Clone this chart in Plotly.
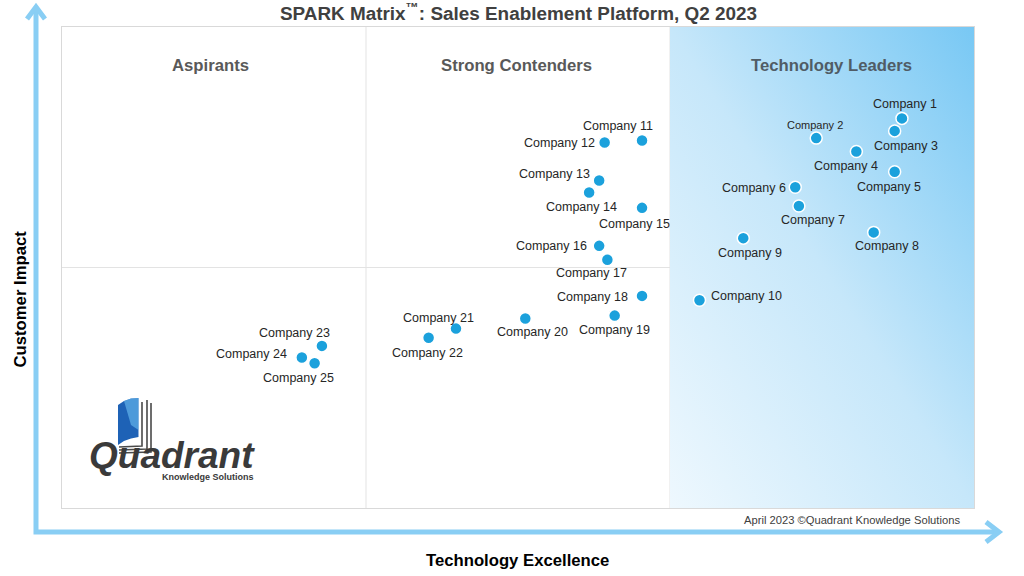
import base64
import plotly.graph_objects as go

# ---------------- data ----------------
companies = [f"Company {i}" for i in range(1, 26)]
tech_excellence = [92.1, 82.7, 91.3, 87.1, 91.3, 80.4, 80.8, 89.0, 74.7, 69.9,
                   63.6, 59.5, 58.9, 57.8, 63.6, 58.9, 59.8, 63.6, 60.6, 50.8,
                   43.2, 40.2, 28.5, 26.3, 27.7]
customer_impact = [81.0, 76.9, 78.4, 74.1, 69.9, 66.7, 62.8, 57.3, 56.1, 43.2,
                   76.4, 76.0, 68.1, 65.6, 62.4, 54.5, 51.6, 44.1, 40.0, 39.4,
                   37.3, 35.4, 33.7, 31.3, 30.1]
quadrant_names = ["Aspirants", "Strong Contenders", "Technology Leaders"]

# label offsets in pixels (dx right, dy down)
label_dx = [3, -1, 11, -10, -6, -41, 14, 13, 7, 47,
            -24, -45, -45, -8, -8, -48, -16, -50, 0, 7,
            -17, -1, -27, -50, -16]
label_dy = [-14, -13, 15, 14, 15, 1, 14, 14, 15, -4,
            -15, 1, -6, 15, 16, 0, 13, 1, 14, 14,
            -11, 15, -13, -3, 15]

FONT = "Arial, Liberation Sans, sans-serif"

# plot area in pixels
L, R, T, B = 62, 974, 27, 508


def P(px, py):
    return (px - L) / (R - L), (B - py) / (B - T)


def path(points, close=False):
    s = ""
    for i, (px, py) in enumerate(points):
        x, y = P(px, py)
        s += ("M" if i == 0 else "L") + f"{x:.5f},{y:.5f} "
    if close:
        s += "Z"
    return s


def paper_text(px, py, text, size, color, **kw):
    x, y = P(px, py)
    d = dict(x=x, y=y, xref="paper", yref="paper", showarrow=False, text=text,
             xanchor="center", yanchor="middle",
             font=dict(family=FONT, size=size, color=color))
    d.update(kw)
    return d


fig = go.Figure()

fig.add_trace(go.Scatter(
    x=tech_excellence, y=customer_impact, mode="markers",
    marker=dict(size=12, color="#1ba1dc", line=dict(color="white", width=1.5)),
    hoverinfo="text", text=companies, showlegend=False,
))

annotations = []
for i, name in enumerate(companies):
    annotations.append(dict(
        x=tech_excellence[i], y=customer_impact[i], xref="x", yref="y",
        text=name, showarrow=False, xshift=label_dx[i], yshift=-label_dy[i],
        font=dict(family=FONT, size=11 if i == 1 else 12.5, color="#262626"),
        xanchor="center", yanchor="middle",
    ))

# quadrant titles
for name, cx in zip(quadrant_names, [16.3, 49.8, 84.4]):
    annotations.append(dict(
        x=cx, y=91.9, xref="x", yref="y", text=f"<b>{name}</b>", showarrow=False,
        xanchor="center", yanchor="middle",
        font=dict(family=FONT, size=16.7, color="#595959" if cx < 66 else "#505c66"),
    ))

annotations.append(paper_text(
    518, 12, "<b>SPARK Matrix<sup>™</sup>: Sales Enablement Platform, Q2 2023</b>", 18.9, "#404040"))
annotations.append(paper_text(19.5, 299, "<b>Customer Impact</b>", 16.7, "#000000", textangle=-90))
annotations.append(paper_text(517, 560, "<b>Technology Excellence</b>", 16.7, "#000000"))
annotations.append(paper_text(962, 520, "April 2023 ©Quadrant Knowledge Solutions", 11.2, "#404040",
                              xanchor="right"))
# logo text (one block: big word + tagline)
annotations.append(paper_text(
    257, 484,
    "<span style='font-size:37px'><b><i>Quadrant</i></b></span><br><b>Knowledge Solutions</b>",
    9, "#3a3a3a", xanchor="right", yanchor="bottom", align="right"))

shapes = []
# quadrant dividers
for xv in [100 / 3, 200 / 3]:
    shapes.append(dict(type="line", xref="x", yref="y", x0=xv, x1=xv, y0=0, y1=100,
                       line=dict(color="#e3e3e3", width=1), layer="below"))
shapes.append(dict(type="line", xref="x", yref="y", x0=0, x1=100, y0=50, y1=50,
                   line=dict(color="#e3e3e3", width=1), layer="below"))

# axis arrows
arrow_col = "#89cef4"
shapes.append(dict(type="path", xref="paper", yref="paper",
                   path=path([(36, 8), (36, 532), (998, 532)]),
                   line=dict(color=arrow_col, width=5)))
shapes.append(dict(type="path", xref="paper", yref="paper",
                   path=path([(27, 19), (36, 7), (45, 19)]),
                   line=dict(color=arrow_col, width=5)))
shapes.append(dict(type="path", xref="paper", yref="paper",
                   path=path([(986, 522), (999, 532), (986, 542)]),
                   line=dict(color=arrow_col, width=5)))

# logo book icon
for lx, top, bot in [(142, 402, 446), (147, 400, 449), (151, 403, 452)]:
    shapes.append(dict(type="path", xref="paper", yref="paper",
                       path=path([(lx, top), (lx, bot), (119, bot + 1)]),
                       line=dict(color="#4a4a4a", width=1.6)))
shapes.append(dict(type="path", xref="paper", yref="paper",
                   path=path([(118, 405), (124, 401), (131, 398.5), (138.5, 398),
                              (138.5, 437), (131, 438.5), (124, 441), (118, 445)], close=True),
                   fillcolor="#1e62b6", line=dict(width=0)))
shapes.append(dict(type="path", xref="paper", yref="paper",
                   path=path([(124, 401), (131, 398.5), (138.5, 398),
                              (138.5, 430), (131, 425)], close=True),
                   fillcolor="#6cc0f2", opacity=0.6, line=dict(width=0)))

# gradient for Technology Leaders quadrant
svg = ('<svg xmlns="http://www.w3.org/2000/svg" width="100" height="100" '
       'viewBox="0 0 100 100" preserveAspectRatio="none"><defs>'
       '<linearGradient id="g" x1="0" y1="1" x2="1" y2="0">'
       '<stop offset="0" stop-color="#eef8fe"/>'
       '<stop offset="0.5" stop-color="#c6e7fa"/>'
       '<stop offset="1" stop-color="#78c8f4"/>'
       '</linearGradient></defs><rect width="100" height="100" fill="url(#g)"/></svg>')
src = "data:image/svg+xml;base64," + base64.b64encode(svg.encode()).decode()

fig.update_layout(
    width=1024, height=576,
    margin=dict(l=L, r=1024 - R, t=T, b=576 - B),
    paper_bgcolor="white", plot_bgcolor="white",
    xaxis=dict(range=[0, 100], showgrid=False, zeroline=False, showticklabels=False,
               ticks="", showline=True, mirror=True, linecolor="#d9d9d9", linewidth=1,
               fixedrange=True),
    yaxis=dict(range=[0, 100], showgrid=False, zeroline=False, showticklabels=False,
               ticks="", showline=True, mirror=True, linecolor="#d9d9d9", linewidth=1,
               fixedrange=True),
    images=[dict(source=src, xref="x", yref="y", x=200 / 3, y=100, sizex=100 / 3, sizey=100,
                 xanchor="left", yanchor="top", sizing="stretch", layer="below")],
    shapes=shapes, annotations=annotations, showlegend=False,
)

fig.write_html("out.html", config={"displayModeBar": False},
               post_script="document.body.style.margin='0px';document.body.style.overflow='hidden';")
